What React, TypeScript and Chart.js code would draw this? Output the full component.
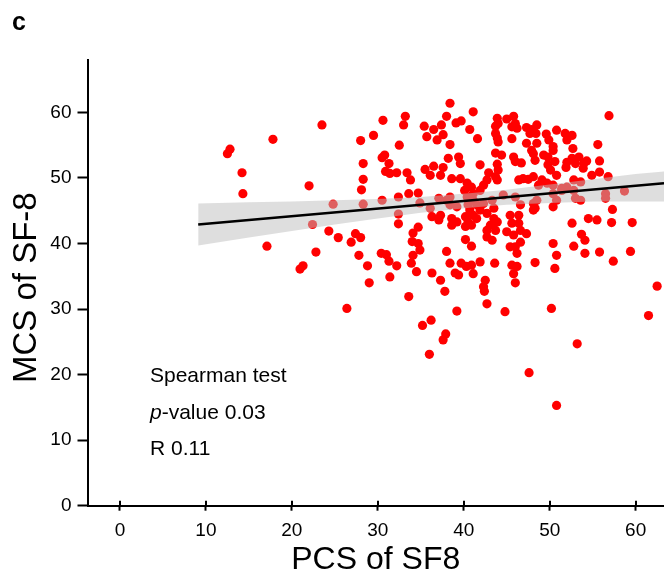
import React, { useEffect, useRef } from "react";
import { Chart, registerables } from "chart.js";

Chart.register(...registerables);

// PCS of SF8 (x) and MCS of SF-8 (y)
const PCS: number[] = [
  23.5, 17.8, 12.8, 12.5, 14.2, 14.3, 22.0, 24.8, 22.4, 17.1, 24.3, 25.4, 22.8, 21.3, 20.95, 26.9, 27.4, 28.0, 27.8, 28.8,
  29.0, 30.6, 29.5, 28.0, 32.5, 30.5, 30.8, 31.3, 28.3, 30.9, 31.4, 32.2, 28.3, 28.1, 30.5, 28.3, 32.4, 32.4, 32.4, 30.4,
  31.0, 31.3, 32.2, 31.4,
  38.4, 41.1, 56.9, 33.2, 33.0, 38.0, 43.9, 44.0, 43.7, 45.0, 45.8, 46.0, 45.6, 37.4, 39.1, 39.7, 35.4, 36.5, 35.7, 37.6,
  36.9, 40.7, 41.6, 43.7, 43.9, 44.0, 45.6, 46.2, 47.3, 47.9, 48.5, 47.7, 48.4, 49.6, 50.8, 49.9, 50.4, 51.8, 52.6, 52.0,
  47.3, 48.5, 47.9, 55.6, 38.4, 52.7, 43.7, 44.4, 38.2, 39.4, 39.6, 36.5, 35.5, 36.1, 37.6, 37.3, 33.4, 33.8, 41.9, 42.9,
  43.9, 44.0, 43.9, 45.8, 46.0, 46.7, 48.1, 48.3, 49.3, 49.8, 50.4, 50.6, 49.8, 50.1, 52.0, 52.6, 53.0, 53.4, 54.0, 54.3,
  51.9, 53.9, 55.8, 55.8, 54.9, 56.8, 38.6, 39.6, 40.4, 40.9, 40.1, 41.1, 41.9, 42.3, 42.7, 43.7, 46.4, 46.9, 47.5, 48.1,
  49.1, 48.7, 49.7, 50.4, 50.8, 52.8, 53.6, 51.4, 52.0, 33.6, 34.7, 34.9, 36.1, 37.1, 38.0, 38.4, 39.2, 38.4, 40.4, 41.1,
  40.5, 41.5, 42.3, 40.7, 41.9, 43.5, 43.3, 44.6, 46.0, 46.6, 48.1, 48.3, 48.5, 50.4, 50.8, 51.4, 52.8, 53.0, 53.6, 50.4,
  56.5, 56.5, 58.7, 57.3, 36.3, 37.3, 37.1, 38.6, 38.6, 39.2, 40.2, 40.5, 41.1, 41.5, 40.9, 40.2, 42.7, 43.5, 43.9, 43.1,
  42.7, 43.7, 45.4, 46.4, 45.6, 46.4, 46.6, 45.0, 45.8, 47.3, 48.1, 52.6, 54.5, 55.5, 57.2, 59.6, 53.7, 54.1, 34.1, 34.7,
  40.2, 40.9, 42.7, 43.3, 45.4, 46.0, 46.6, 46.2, 34.0, 34.7, 34.9, 34.1, 50.4, 50.8, 52.8, 54.1, 55.8, 57.4, 59.4, 38.0,
  38.4, 48.3, 50.6, 33.9, 34.5, 36.3, 37.3, 39.0, 39.7, 40.3, 40.9, 41.1, 41.9, 39.4, 43.6, 45.6, 46.2, 45.8, 46.0, 42.5,
  42.3, 62.5, 42.4, 33.6, 37.8, 26.4, 39.2, 42.7, 44.8, 50.2, 61.5, 36.2, 35.2, 37.9, 37.6, 36.0, 53.2, 47.6, 50.8,
];
const MCS: number[] = [
  58.1, 55.9, 54.4, 53.7, 50.8, 47.6, 48.8, 46.0, 42.9, 39.6, 41.9, 40.9, 38.7, 36.6, 36.1, 40.2, 41.5, 40.9, 38.2, 36.6,
  34.0, 58.8, 56.5, 55.7, 55.0, 53.1, 53.5, 52.2, 52.2, 51.0, 50.7, 50.8, 49.8, 48.2, 46.6, 46.0, 47.1, 44.5, 43.0, 38.5,
  38.3, 37.3, 36.6, 34.9,
  61.4, 60.1, 59.5, 59.4, 58.1, 59.4, 59.1, 58.3, 57.9, 59.0, 59.4, 58.3, 57.8, 58.1, 58.4, 58.7, 57.9, 57.4, 56.3, 56.6,
  55.8, 57.4, 56.0, 56.8, 56.1, 55.5, 56.0, 57.6, 57.7, 57.4, 58.1, 56.8, 56.8, 56.7, 57.3, 55.8, 54.8, 56.8, 56.5, 55.8,
  55.3, 55.3, 54.2, 55.1, 55.1, 54.5, 53.8, 53.5, 53.0, 53.2, 52.2, 51.8, 51.3, 50.4, 51.6, 50.4, 50.8, 49.7, 52.0, 50.8,
  52.1, 51.2, 49.7, 53.2, 52.5, 52.3, 53.7, 52.7, 53.5, 53.2, 54.2, 52.5, 52.0, 51.2, 52.4, 53.0, 52.2, 53.2, 52.3, 52.6,
  51.6, 51.5, 52.6, 50.9, 50.4, 50.2, 49.9, 49.9, 49.2, 48.6, 48.1, 47.6, 48.1, 48.9, 49.7, 50.2, 49.7, 49.9, 49.8, 50.2,
  49.7, 48.9, 49.2, 48.9, 50.4, 49.7, 49.4, 48.4, 48.6, 47.6, 47.7, 46.2, 45.4, 46.9, 46.6, 47.1, 45.6, 45.9, 47.1, 46.6,
  45.9, 45.9, 46.1, 45.1, 45.1, 45.4, 46.6, 47.4, 47.1, 45.9, 46.1, 45.4, 46.6, 47.6, 46.6, 48.1, 48.1, 46.9, 46.6, 45.6,
  47.6, 46.9, 48.0, 45.2, 44.1, 44.3, 43.6, 43.8, 42.8, 43.3, 44.1, 43.3, 44.3, 43.8, 42.8, 42.6, 44.6, 43.8, 43.3, 42.8,
  42.0, 42.0, 44.3, 44.3, 43.1, 43.1, 42.0, 41.8, 41.3, 41.5, 45.1, 43.1, 43.8, 43.6, 43.2, 43.2, 41.4, 40.5, 41.6, 42.5,
  40.6, 39.6, 41.0, 40.5, 39.5, 39.5, 40.2, 38.5, 40.3, 40.0, 39.0, 38.2, 40.0, 38.2, 39.6, 38.5, 38.7, 37.3, 38.8, 38.8,
  37.0, 37.1, 36.2, 37.0, 35.7, 35.5, 34.4, 35.5, 37.0, 36.5, 36.7, 35.4, 37.2, 35.2, 37.0, 36.7, 36.5, 35.4, 34.0, 34.4,
  33.4, 33.5, 32.7, 31.9, 32.7, 30.1, 29.7, 30.8, 29.6, 30.1, 29.0, 28.3, 27.5, 26.2, 25.3, 23.1, 24.7, 20.3, 15.3,
];

// Linear fit and its confidence band
const FIT_X: number[] = [9.1, 63.3];
const FIT_Y: number[] = [42.9, 49.2];
const BAND_X: number[] = [9.1, 15, 20, 25, 30, 35, 41, 45, 50, 55, 60, 63.3];
const BAND_UPPER: number[] = [46.1, 46.3, 46.4, 46.6, 46.8, 47.1, 47.7, 48.2, 49.0, 49.8, 50.6, 51.0];
const BAND_LOWER: number[] = [39.7, 40.9, 41.9, 42.9, 43.8, 44.7, 45.5, 45.9, 46.2, 46.4, 46.4, 46.4];

const X_TICKS: number[] = [0, 10, 20, 30, 40, 50, 60];
const Y_TICKS: number[] = [0, 10, 20, 30, 40, 50, 60];

const X_TITLE = "PCS of SF8";
const Y_TITLE = "MCS of SF-8";
const PANEL = "c";
const STATS_TITLE = "Spearman test";
const P_LABEL = "0.03";
const R_LABEL = "0.11";

const FONT = "'Liberation Sans', Arial, Helvetica, sans-serif";

const overlay = {
  id: "overlay",
  afterDraw(chart: any) {
    const ctx = chart.ctx as CanvasRenderingContext2D;
    const area = chart.chartArea;
    const xs = chart.scales.x;
    ctx.save();
    // upper halves of the x tick marks (they cross the axis)
    ctx.strokeStyle = "#000";
    ctx.lineWidth = 2;
    X_TICKS.forEach((v) => {
      const px = Math.round(xs.getPixelForValue(v));
      ctx.beginPath();
      ctx.moveTo(px, area.bottom - 5);
      ctx.lineTo(px, area.bottom);
      ctx.stroke();
    });
    ctx.fillStyle = "#000";
    // panel letter
    ctx.font = `bold 25px ${FONT}`;
    ctx.textAlign = "left";
    ctx.textBaseline = "alphabetic";
    ctx.fillText(PANEL, 12, 30);
    // x title
    ctx.font = `32px ${FONT}`;
    ctx.textAlign = "center";
    ctx.fillText(X_TITLE, (area.left + area.right) / 2, 569);
    // y title
    ctx.save();
    ctx.font = `33px ${FONT}`;
    ctx.textAlign = "left";
    ctx.translate(36, 383);
    ctx.rotate(-Math.PI / 2);
    ctx.fillText(Y_TITLE, 0, 0);
    ctx.restore();
    // stats text
    ctx.textAlign = "left";
    ctx.font = `21px ${FONT}`;
    ctx.fillText(STATS_TITLE, 150, 382);
    ctx.font = `italic 21px ${FONT}`;
    ctx.fillText("p", 150, 418.5);
    const pw = ctx.measureText("p").width;
    ctx.font = `21px ${FONT}`;
    ctx.fillText("-value " + P_LABEL, 150 + pw, 418.5);
    ctx.fillText("R " + R_LABEL, 150, 455);
    ctx.restore();
  },
};

export default function App() {
  const ref = useRef<HTMLCanvasElement | null>(null);
  useEffect(() => {
    if (!ref.current) return;
    const points = PCS.map((x, i) => ({ x, y: MCS[i] }));
    const upper = BAND_X.map((x, i) => ({ x, y: BAND_UPPER[i] }));
    const lower = BAND_X.map((x, i) => ({ x, y: BAND_LOWER[i] }));
    const fit = FIT_X.map((x, i) => ({ x, y: FIT_Y[i] }));
    const tickFont = { family: FONT, size: 19 };
    const chart = new Chart(ref.current, {
      type: "scatter",
      data: {
        datasets: [
          {
            label: "patients",
            data: points,
            backgroundColor: "#ff0000",
            borderWidth: 0,
            pointRadius: 4.6,
            pointHoverRadius: 4.6,
            order: 3,
          } as any,
          {
            type: "line",
            label: "upper",
            data: upper,
            borderColor: "rgba(0,0,0,0)",
            borderWidth: 0,
            pointRadius: 0,
            fill: "+1",
            backgroundColor: "rgba(190,190,190,0.5)",
            order: 2,
          } as any,
          {
            type: "line",
            label: "lower",
            data: lower,
            borderColor: "rgba(0,0,0,0)",
            borderWidth: 0,
            pointRadius: 0,
            fill: false,
            order: 2,
          } as any,
          {
            type: "line",
            label: "fit",
            data: fit,
            borderColor: "#000",
            borderWidth: 2.5,
            pointRadius: 0,
            fill: false,
            order: 1,
          } as any,
        ],
      },
      options: {
        responsive: false,
        animation: false,
        devicePixelRatio: 1,
        layout: { autoPadding: false, padding: { top: 60, left: 0, right: 0, bottom: 0 } },
        plugins: { legend: { display: false }, tooltip: { enabled: false } },
        scales: {
          x: {
            type: "linear",
            min: -3.78,
            max: 63.3,
            afterBuildTicks: (s: any) => {
              s.ticks = X_TICKS.map((v) => ({ value: v }));
            },
            afterFit: (s: any) => {
              s.height = 66.3;
              s.paddingLeft = 0;
              s.paddingRight = 0;
            },
            ticks: { color: "#000", font: tickFont, padding: 9, maxRotation: 0 },
            grid: { drawOnChartArea: false, drawTicks: true, tickLength: 5, tickColor: "#000", tickWidth: 2 },
            border: { color: "#000", width: 2 },
          },
          y: {
            type: "linear",
            min: 0,
            max: 68,
            afterBuildTicks: (s: any) => {
              s.ticks = Y_TICKS.map((v) => ({ value: v }));
            },
            afterFit: (s: any) => {
              s.width = 87.5;
              s.paddingTop = 0;
              s.paddingBottom = 0;
            },
            ticks: { color: "#000", font: tickFont, padding: 6 },
            grid: { drawOnChartArea: false, drawTicks: true, tickLength: 10, tickColor: "#000", tickWidth: 2 },
            border: { color: "#000", width: 2 },
          },
        },
      },
      plugins: [overlay],
    });
    return () => chart.destroy();
  }, []);
  return (
    <div style={{ position: "absolute", left: 0, top: 0, width: 664, height: 572, background: "#fff" }}>
      <canvas ref={ref} width={664} height={572} />
    </div>
  );
}
